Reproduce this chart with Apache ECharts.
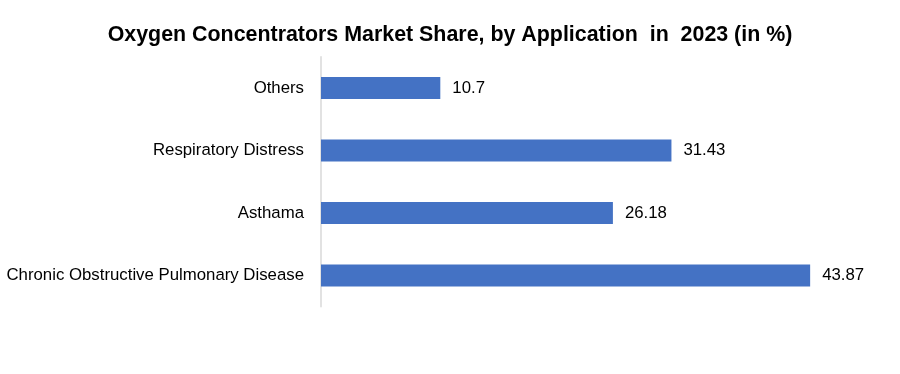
<!DOCTYPE html>
<html><head><meta charset="utf-8">
<script src="https://cdn.jsdelivr.net/npm/echarts@6/dist/echarts.min.js"></script>
<style>html,body{margin:0;padding:0;background:#fff}#c{width:900px;height:374px}</style>
</head><body><div id="c"></div>
<script>
var categories = ["Chronic Obstructive Pulmonary Disease", "Asthama", "Respiratory Distress", "Others"];
var values = [43.87, 26.18, 31.43, 10.7];
var titleText = "Oxygen Concentrators Market Share, by Application  in  2023 (in %)";
var FONT = "Liberation Sans";
var chart = echarts.init(document.getElementById('c'), null, {renderer: 'canvas'});
chart.setOption({
  animation: false,
  backgroundColor: '#fff',
  title: {
    text: titleText, left: 'center', top: 20,
    textStyle: {fontFamily: FONT, fontWeight: 'bold', fontSize: 21.4, color: '#000'}
  },
  grid: {left: 321, top: 56.75, height: 250, width: 557.5},
  xAxis: {type: 'value', min: 0, max: 50, show: false},
  yAxis: {
    type: 'category', data: categories,
    axisLine: {show: true, lineStyle: {color: '#d9d9d9', width: 1.5}},
    axisTick: {show: false},
    axisLabel: {fontFamily: FONT, fontSize: 16.8, color: '#000', margin: 17}
  },
  series: [{
    type: 'bar', data: values, barWidth: 22,
    itemStyle: {color: '#4472c4'},
    label: {show: true, position: 'right', distance: 12, fontFamily: FONT, fontSize: 16.8, color: '#000'}
  }]
});
</script></body></html>
